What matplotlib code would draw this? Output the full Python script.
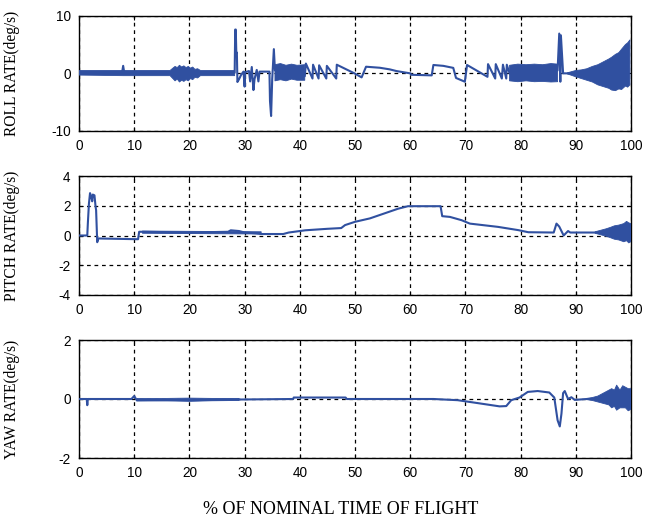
import numpy as np
import matplotlib
matplotlib.use("Agg")
import matplotlib.pyplot as plt

# ---------------- data ----------------
x_ticks = [0, 10, 20, 30, 40, 50, 60, 70, 80, 90, 100]

# ROLL rate: traced line
roll_t = [0, 7.8, 8.0, 8.2, 28.2, 28.3, 28.4, 28.5, 28.6, 28.7, 29.0, 29.4, 29.8, 30.0, 30.1,
          30.8, 31.0, 31.3, 31.6, 31.8, 32.2, 32.5, 32.7, 34.5, 34.6, 34.8, 35.0, 35.3, 35.5,
          40.9, 41.1, 42.3, 42.4, 43.4, 43.5, 44.8, 44.9, 46.6, 46.7, 49.9, 51.2, 52.0,
          54.5, 56.3, 57.5, 60.0, 60.2, 63.9, 64.2, 66.0, 67.8, 68.3, 69.9, 70.3, 74.0,
          74.1, 75.4, 75.5, 76.6, 76.8, 77.4, 77.5, 78.0, 86.7, 87.0, 87.2, 87.3, 87.7, 90.0]
roll_v = [0.1, 0.1, 1.3, 0.1, 0.1, 7.6, 7.6, 3.5, 3.6, -1.5, -1.0, -0.2, 0.3, -2.3, 0.2,
          0.4, -1.4, 1.1, -2.9, -1.0, 0.6, -1.4, 0.3, 0.3, -4.8, -7.4, -1.0, 4.2, 0.5,
          -0.5, 1.7, -0.9, 1.5, -0.9, 1.4, -0.9, 1.3, -0.9, 1.5, 0.0, -0.7, 1.15,
          0.97, 0.69, 0.4, 0.0, -0.25, -0.35, 1.45, 1.3, 0.95, -0.8, -1.45, 1.45, -0.6,
          1.6, -0.9, 1.6, -0.9, 1.5, -0.9, 1.5, 0.0, 0.5, 6.9, -1.45, 6.6, 0.0, 0.0]
# ROLL rate: envelope of high-frequency oscillation (NaN separates bursts)
roll_band_t = [0, 8, 16.5, 17.0, 17.4, 17.8, 18.2, 18.6, 19.0, 19.4, 19.8, 20.2, 20.6, 21.0,
               21.5, 22, 28.2, np.nan,
               35.5, 36.5, 37.5, 38.5, 39.5, 40.9, np.nan,
               78.0, 79.5, 81, 82.5, 84, 85.5, 86.7, np.nan,
               88.5, 90, 91, 92, 93, 94, 95, 96, 96.5, 97.2, 97.8, 98.3, 99, 99.4, 99.8]
roll_band_hi = [0.5, 0.5, 0.5, 0.9, 1.2, 1.0, 1.4, 1.1, 1.3, 1.0, 1.2, 0.9, 1.1, 0.7,
                0.8, 0.5, 0.5, np.nan,
                1.5, 1.7, 1.4, 1.6, 1.4, 1.5, np.nan,
                1.4, 1.6, 1.5, 1.6, 1.5, 1.7, 1.6, np.nan,
                0.1, 0.5, 0.6, 0.8, 1.2, 1.5, 2.0, 2.5, 2.8, 3.3, 3.6, 4.2, 5.0, 5.3, 5.8]
roll_band_lo = [-0.3, -0.4, -0.4, -0.9, -1.3, -1.0, -1.5, -1.2, -1.4, -1.1, -1.3, -0.9, -1.1, -0.7,
                -0.8, -0.4, -0.4, np.nan,
                -1.3, -1.1, -1.3, -1.0, -1.2, -1.2, np.nan,
                -1.3, -1.45, -1.3, -1.45, -1.4, -1.5, -1.45, np.nan,
                -0.1, -0.6, -0.9, -1.2, -1.5, -2.0, -2.3, -2.6, -2.9, -3.0, -2.7, -2.8, -2.2, -2.4, -2.0]

# PITCH rate
pitch_t = [0, 1.5, 1.6, 1.8, 2.0, 2.2, 2.4, 2.5, 2.8, 3.0, 3.1, 3.3, 3.5, 10.7, 10.9, 11.5,
           20, 27, 27.5, 29, 30, 32, 33, 37, 38, 40, 41, 45, 47.5, 48.2, 50, 52.7, 57.8,
           59.6, 65.5, 65.8, 67.2, 69.3, 70.8, 75.9, 79.6, 81.4, 86.0, 86.5, 87.0, 87.8,
           88.6, 89.0, 93.7, 100]
pitch_v = [0, 0, 0.8, 2.15, 2.85, 2.6, 2.3, 2.75, 2.7, 1.95, 1.7, -0.45, -0.2, -0.25, 0.25, 0.25,
           0.2, 0.25, 0.35, 0.3, 0.2, 0.15, 0.1, 0.1, 0.2, 0.3, 0.35, 0.45, 0.5, 0.7, 0.92, 1.15, 1.8,
           1.97, 1.97, 1.3, 1.25, 1.03, 0.8, 0.58, 0.36, 0.22, 0.2, 0.8, 0.6, 0.0,
           0.3, 0.2, 0.2, 0.2]
pitch_band_t = [11.5, 33, np.nan, 93.5, 94.5, 95.5, 96.3, 97, 97.8, 98.7, 99.2, 99.6, 100]
pitch_band_hi = [0.3, 0.25, np.nan, 0.25, 0.35, 0.45, 0.55, 0.65, 0.7, 0.8, 0.95, 0.85, 0.8]
pitch_band_lo = [0.15, 0.1, np.nan, 0.15, 0.05, -0.05, -0.15, -0.25, -0.3, -0.42, -0.35, -0.5, -0.4]

# YAW rate
yaw_t = [0, 1.4, 1.5, 1.6, 9.5, 10.0, 10.5, 38.8, 38.9, 48.3, 48.5, 64.2, 68.6, 71.9, 76.2,
         77.4, 78.3, 79.8, 81.3, 83.1, 85.2, 86.1, 86.7, 87.1, 87.4, 87.7, 88.0, 88.6, 89.2,
         89.8, 92, 100]
yaw_v = [0, 0, -0.21, 0, 0, 0.1, -0.05, 0, 0.05, 0.05, 0, 0, -0.04, -0.13, -0.25,
         -0.24, -0.04, 0.05, 0.24, 0.27, 0.22, 0.05, -0.72, -0.93, -0.5, 0.2, 0.27, 0.0, 0.06,
         -0.03, 0, 0]
yaw_band_t = [10.5, 16, 20, 24, 29, np.nan,
              92, 93, 94, 95, 96, 96.5, 97, 97.4, 98, 98.5, 99, 99.5, 100]
yaw_band_hi = [0.02, 0.02, 0.03, 0.02, 0.02, np.nan,
               0.02, 0.05, 0.1, 0.2, 0.3, 0.35, 0.3, 0.47, 0.3, 0.45, 0.4, 0.35, 0.35]
yaw_band_lo = [-0.05, -0.06, -0.08, -0.06, -0.05, np.nan,
               -0.02, -0.05, -0.1, -0.15, -0.2, -0.3, -0.25, -0.38, -0.3, -0.3, -0.3, -0.4, -0.35]

panels = [
    ("ROLL RATE(deg/s)", roll_t, roll_v, roll_band_t, roll_band_lo, roll_band_hi, (-10, 10), [-10, 0, 10]),
    ("PITCH RATE(deg/s)", pitch_t, pitch_v, pitch_band_t, pitch_band_lo, pitch_band_hi, (-4, 4), [-4, -2, 0, 2, 4]),
    ("YAW RATE(deg/s)", yaw_t, yaw_v, yaw_band_t, yaw_band_lo, yaw_band_hi, (-2, 2), [-2, 0, 2]),
]
x_label = "% OF NOMINAL TIME OF FLIGHT"

# ---------------- styling ----------------
plt.rcParams['axes.unicode_minus'] = False
plt.rcParams['font.family'] = ['Liberation Sans', 'DejaVu Sans']
line_color = '#3050A0'

W, H = 657, 523
fig = plt.figure(figsize=(W / 100, H / 100), dpi=100)
boxes = [(79, 15.7, 631, 131), (79, 176, 631, 295), (79, 340, 631, 458)]

for (ylab, t, v, bt, blo, bhi, ylim, yt), (l, tp, r, b) in zip(panels, boxes):
    ax = fig.add_axes([l / W, 1 - b / H, (r - l) / W, (b - tp) / H])
    ax.fill_between(np.array(bt, float), np.array(blo, float), np.array(bhi, float),
                    color=line_color, linewidth=0.6, zorder=3)
    ax.plot(t, v, color=line_color, lw=1.5, zorder=4)
    ax.set_xlim(0, 100)
    ax.set_ylim(*ylim)
    ax.set_xticks(x_ticks)
    ax.set_yticks(yt)
    ax.grid(True, color='black', linestyle=(0, (3, 3)), linewidth=0.9, zorder=1)
    ax.tick_params(direction='in', length=3, width=0.8, labelsize=9.8, pad=6,
                   top=True, right=True, colors='black')
    for s in ax.spines.values():
        s.set_linewidth(1.0)
        s.set_color('black')
    ax.set_ylabel(ylab, family=['Liberation Serif', 'DejaVu Serif'], fontsize=11.2)
    ax.yaxis.set_label_coords(-0.107, 0.5)

fig.text(341 / W, 1 - 510 / H, x_label, ha='center', va='center',
         family=['Liberation Serif', 'DejaVu Serif'], fontsize=13)

fig.savefig('out.png', dpi=100)
